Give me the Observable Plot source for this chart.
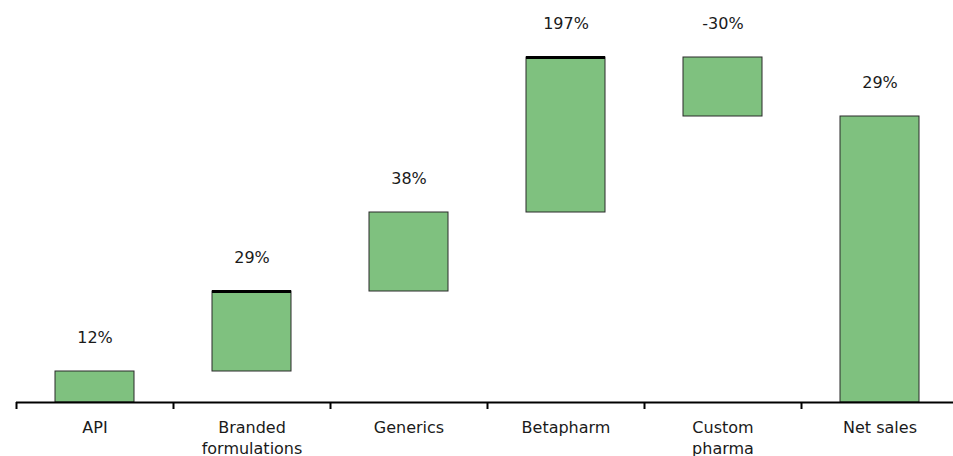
<!DOCTYPE html>
<html>
<head>
<meta charset="utf-8">
<script src="https://cdn.jsdelivr.net/npm/d3@7"></script>
<script src="https://cdn.jsdelivr.net/npm/@observablehq/plot@0.6"></script>
<style>
  body { margin: 0; background: #fff; }
  svg { display: block; }
</style>
</head>
<body>
<div id="chart"></div>
<script>
// Segments of the sales bridge, left to right
const categories = ["API", "Branded formulations", "Generics", "Betapharm", "Custom pharma", "Net sales"];
const tickLabels = ["API", "Branded\nformulations", "Generics", "Betapharm", "Custom\npharma", "Net sales"];
// Contribution of each business to the change in sales
const changes = [31, 80, 79, 155, -59];
const netSales = 286;
// Year-on-year growth of each segment
const growthLabels = ["12%", "29%", "38%", "197%", "-30%", "29%"];
// Bars whose top edge is drawn heavier
const emphasizedTops = ["Branded formulations", "Betapharm"];

// Floating bars: each change starts where the previous one ended
let running = 0;
const rows = categories.map((category, i) => {
  if (i < changes.length) {
    const start = running;
    running += changes[i];
    return { category, start, end: running, top: Math.max(start, running), label: growthLabels[i] };
  }
  return { category, start: 0, end: netSales, top: netSales, label: growthLabels[i] };
});

const width = 953, height = 456, marginLeft = 16, marginRight = -5;
const step = (width - marginLeft - marginRight) / categories.length;
const font = "'DejaVu Sans', Verdana, sans-serif";

const chart = Plot.plot({
  width, height,
  marginTop: 57, marginBottom: 54, marginLeft, marginRight,
  style: { fontFamily: font, fontSize: "16px", color: "#1a1a1a", background: "#fff" },
  x: { domain: categories, paddingInner: 0.5, paddingOuter: 0.25 },
  y: { domain: [0, 345], axis: null },
  marks: [
    Plot.barY(rows, { x: "category", y1: "start", y2: "end", fill: "#7fc17f", stroke: "#2a2a2a", strokeWidth: 1 }),
    Plot.tickY(rows.filter(d => emphasizedTops.includes(d.category)),
      { x: "category", y: "top", stroke: "#000", strokeWidth: 3 }),
    Plot.ruleY([0], { stroke: "#000", strokeWidth: 2 }),
    // tick marks sit on the boundaries between categories
    Plot.ruleX(categories, { x: d => d, y1: 0, y2: 0, insetBottom: -7, dx: -step / 2, stroke: "#000", strokeWidth: 2 }),
    Plot.text(rows, { x: "category", y: "top", text: "label", dy: -34, fontSize: 16, fill: "#1a1a1a" }),
    Plot.axisX({
      tickSize: 0, tickPadding: 15, fontSize: 16, lineHeight: 1.34, label: null,
      tickFormat: d => tickLabels[categories.indexOf(d)]
    })
  ]
});

document.getElementById("chart").append(chart);
</script>
</body>
</html>
